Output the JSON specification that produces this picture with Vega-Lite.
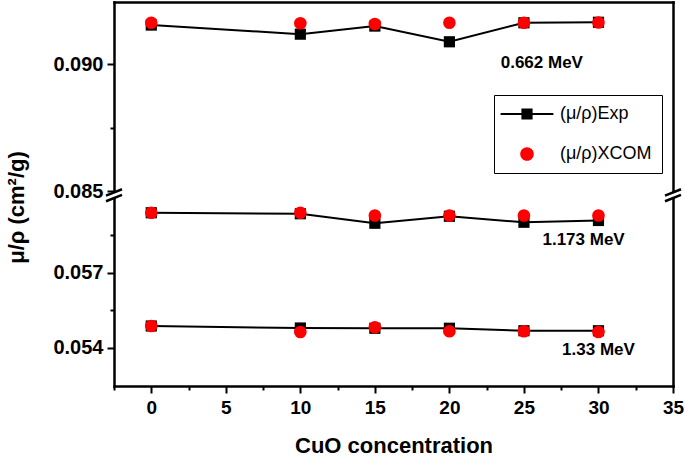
{
  "$schema": "https://vega.github.io/schema/vega-lite/v6.json",
  "width": 559,
  "height": 384,
  "padding": {"left": 5, "top": 2, "right": 12, "bottom": 4},
  "background": "white",
  "config": {
    "view": {"stroke": null},
    "font": "Liberation Sans"
  },
  "datasets": {
    "points": [
      {"energy": "0.662 MeV", "conc": 0, "series": "Exp", "mu": 0.09155},
      {"energy": "0.662 MeV", "conc": 10, "series": "Exp", "mu": 0.09119},
      {"energy": "0.662 MeV", "conc": 15, "series": "Exp", "mu": 0.09151},
      {"energy": "0.662 MeV", "conc": 20, "series": "Exp", "mu": 0.09089},
      {"energy": "0.662 MeV", "conc": 25, "series": "Exp", "mu": 0.09164},
      {"energy": "0.662 MeV", "conc": 30, "series": "Exp", "mu": 0.09166},
      {"energy": "1.173 MeV", "conc": 0, "series": "Exp", "mu": 0.0594},
      {"energy": "1.173 MeV", "conc": 10, "series": "Exp", "mu": 0.05936},
      {"energy": "1.173 MeV", "conc": 15, "series": "Exp", "mu": 0.05898},
      {"energy": "1.173 MeV", "conc": 20, "series": "Exp", "mu": 0.05926},
      {"energy": "1.173 MeV", "conc": 25, "series": "Exp", "mu": 0.05902},
      {"energy": "1.173 MeV", "conc": 30, "series": "Exp", "mu": 0.05909},
      {"energy": "1.33 MeV", "conc": 0, "series": "Exp", "mu": 0.05487},
      {"energy": "1.33 MeV", "conc": 10, "series": "Exp", "mu": 0.05479},
      {"energy": "1.33 MeV", "conc": 15, "series": "Exp", "mu": 0.05478},
      {"energy": "1.33 MeV", "conc": 20, "series": "Exp", "mu": 0.05478},
      {"energy": "1.33 MeV", "conc": 25, "series": "Exp", "mu": 0.05468},
      {"energy": "1.33 MeV", "conc": 30, "series": "Exp", "mu": 0.05468},
      {"energy": "0.662 MeV", "conc": 0, "series": "XCOM", "mu": 0.09164},
      {"energy": "0.662 MeV", "conc": 10, "series": "XCOM", "mu": 0.09162},
      {"energy": "0.662 MeV", "conc": 15, "series": "XCOM", "mu": 0.09159},
      {"energy": "0.662 MeV", "conc": 20, "series": "XCOM", "mu": 0.09164},
      {"energy": "0.662 MeV", "conc": 25, "series": "XCOM", "mu": 0.09164},
      {"energy": "0.662 MeV", "conc": 30, "series": "XCOM", "mu": 0.09165},
      {"energy": "1.173 MeV", "conc": 0, "series": "XCOM", "mu": 0.0594},
      {"energy": "1.173 MeV", "conc": 10, "series": "XCOM", "mu": 0.0594},
      {"energy": "1.173 MeV", "conc": 15, "series": "XCOM", "mu": 0.05929},
      {"energy": "1.173 MeV", "conc": 20, "series": "XCOM", "mu": 0.05929},
      {"energy": "1.173 MeV", "conc": 25, "series": "XCOM", "mu": 0.05929},
      {"energy": "1.173 MeV", "conc": 30, "series": "XCOM", "mu": 0.05929},
      {"energy": "1.33 MeV", "conc": 0, "series": "XCOM", "mu": 0.05487},
      {"energy": "1.33 MeV", "conc": 10, "series": "XCOM", "mu": 0.05463},
      {"energy": "1.33 MeV", "conc": 15, "series": "XCOM", "mu": 0.05482},
      {"energy": "1.33 MeV", "conc": 20, "series": "XCOM", "mu": 0.05466},
      {"energy": "1.33 MeV", "conc": 25, "series": "XCOM", "mu": 0.05466},
      {"energy": "1.33 MeV", "conc": 30, "series": "XCOM", "mu": 0.05463}
    ],
    "labels": [
      {"label": "0.662 MeV", "conc": 26.2, "mu": 0.09006},
      {"label": "1.173 MeV", "conc": 29.0, "mu": 0.05831},
      {"label": "1.33 MeV", "conc": 30.0, "mu": 0.05391}
    ],
    "breaks": [
      {"side": "left", "conc": -2.5, "mu": 0.0601},
      {"side": "right", "conc": 35, "mu": 0.0601}
    ]
  },
  "resolve": {"axis": {"x": "independent", "y": "independent"}},
  "layer": [
    {
      "encoding": {
        "x": {
          "field": "conc",
          "type": "quantitative",
          "scale": {"domain": [-2.5, 35], "nice": false, "zero": false},
          "axis": {
            "values": [-2.5, 0, 2.5, 5, 7.5, 10, 12.5, 15, 17.5, 20, 22.5, 25, 27.5, 30, 32.5, 35],
            "labelExpr": "datum.value % 5 === 0 ? format(datum.value, 'd') : ''",
            "tickSize": {"condition": {"test": "datum.value % 5 === 0", "value": 7}, "value": 4},
            "tickWidth": 2,
            "tickColor": "black",
            "domain": true,
            "domainColor": "black",
            "domainWidth": 2.5,
            "domainCap": "square",
            "grid": false,
            "labelFlush": false,
            "labelOverlap": false,
            "labelFont": "Liberation Sans",
            "labelFontWeight": "bold",
            "labelFontSize": 19,
            "labelColor": "black",
            "labelPadding": 5,
            "title": "CuO concentration",
            "titleFont": "Liberation Sans",
            "titleFontWeight": "bold",
            "titleFontSize": 22,
            "titleColor": "black",
            "titlePadding": 18
          }
        },
        "y": {
          "field": "mu",
          "type": "quantitative",
          "scale": {"type": "linear", "domain": [0.05247, 0.06019, 0.085, 0.09246], "range": [384, 191, 189, 0], "nice": false, "zero": false},
          "axis": {
            "values": [0.054, 0.0555, 0.057, 0.0585, 0.085, 0.0875, 0.09],
            "format": ".3f",
            "labelExpr": "abs(datum.value*1000 - round(datum.value*1000)) < 0.01 ? datum.label : ''",
            "tickSize": {"condition": {"test": "abs(datum.value*1000 - round(datum.value*1000)) < 0.01", "value": 7}, "value": 4},
            "tickWidth": 2,
            "tickColor": "black",
            "domain": true,
            "domainColor": "black",
            "domainWidth": 2.5,
            "domainCap": "square",
            "grid": false,
            "labelOverlap": false,
            "labelFont": "Liberation Sans",
            "labelFontWeight": "bold",
            "labelFontSize": 20,
            "labelColor": "black",
            "labelPadding": 4,
            "title": "μ/ρ (cm²/g)",
            "titleFont": "Liberation Sans",
            "titleFontWeight": "bold",
            "titleFontSize": 22,
            "titleColor": "black",
            "titlePadding": 24,
            "titleY": 205
          }
        }
      },
      "layer": [
        {
          "data": {"name": "points"},
          "transform": [{"filter": "datum.series === 'Exp'"}],
          "mark": {"type": "line", "color": "black", "strokeWidth": 2},
          "encoding": {"detail": {"field": "energy"}}
        },
        {
          "data": {"name": "points"},
          "transform": [{"filter": "datum.series === 'Exp'"}],
          "mark": {"type": "point", "shape": "square", "size": 125, "filled": true, "color": "black", "opacity": 1}
        },
        {
          "data": {"name": "points"},
          "transform": [{"filter": "datum.series === 'XCOM'"}],
          "mark": {"type": "point", "shape": "circle", "size": 160, "filled": true, "color": "#ff0000", "opacity": 1}
        },
        {
          "data": {"name": "points"},
          "transform": [{"filter": "false"}],
          "mark": {"type": "point", "filled": true, "opacity": 1},
          "encoding": {
            "color": {
              "field": "series",
              "type": "nominal",
              "scale": {"domain": ["Exp", "XCOM"], "range": ["black", "#ff0000"]},
              "legend": {
                "orient": "none",
                "legendX": 380,
                "legendY": 93,
                "title": null,
                "padding": 10,
                "strokeColor": "black",
                "fillColor": "white",
                "symbolSize": 256,
                "symbolOffset": 14,
                "labelOffset": 24,
                "rowPadding": 22,
                "labelFont": "Liberation Sans",
                "labelFontSize": 18,
                "labelColor": "black",
                "labelExpr": "'(μ/ρ)' + datum.label"
              }
            },
            "shape": {
              "field": "series",
              "type": "nominal",
              "scale": {"domain": ["Exp", "XCOM"], "range": ["M-3.3,-0.13H3.3V0.13H-3.3ZM-0.7,-0.7H0.7V0.7H-0.7Z", "M-0.85,0A0.85,0.85,0,1,0,0.85,0A0.85,0.85,0,1,0,-0.85,0Z"]}
            }
          }
        },
        {
          "data": {"name": "labels"},
          "mark": {"type": "text", "font": "Liberation Sans", "fontWeight": "bold", "fontSize": 17, "color": "black"},
          "encoding": {"text": {"field": "label"}}
        },
        {
          "data": {"name": "breaks"},
          "mark": {"type": "point", "shape": "M-0.5,-0.33H0.5V0.33H-0.5Z", "size": 256, "filled": true, "color": "white", "opacity": 1}
        }
      ]
    },
    {
      "data": {"name": "breaks"},
      "mark": {"type": "point", "shape": "M-1,0.05L1,-0.75M-1,0.75L1,-0.05", "size": 256, "filled": false, "color": "black", "strokeWidth": 2.5, "opacity": 1},
      "encoding": {
        "x": {
          "field": "conc",
          "type": "quantitative",
          "axis": {"orient": "top", "domain": true, "domainColor": "black", "domainWidth": 2.5, "domainCap": "square", "ticks": false, "labels": false, "grid": false, "title": null}
        },
        "y": {
          "field": "mu",
          "type": "quantitative",
          "axis": {"orient": "right", "domain": true, "domainColor": "black", "domainWidth": 2.5, "domainCap": "square", "ticks": false, "labels": false, "grid": false, "title": null}
        }
      }
    }
  ]
}
